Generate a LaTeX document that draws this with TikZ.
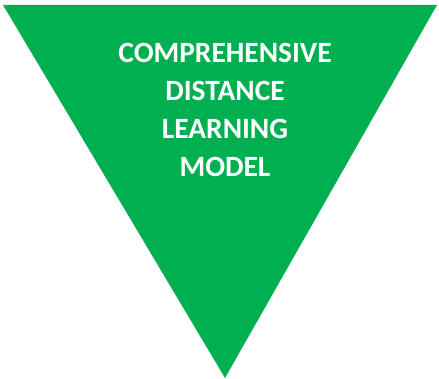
\documentclass[tikz,border=0pt]{standalone}
\usepackage{fontspec}
\setmainfont{Carlito}
\usetikzlibrary{positioning}
\definecolor{funnelcolor}{RGB}{0,176,80}
\tikzset{
  %% funnel : the green triangle
  funnel/.style={fill=funnelcolor, draw=none},
  %% title : the white text inside
  title/.style={
    text=white,
    font=\fontsize{29.4}{38}\selectfont\bfseries,
    align=center,
    inner sep=0pt
  }
}
\begin{document}
\begin{tikzpicture}
  [x=1pt,
  y=-1pt]

  \useasboundingbox (0,0) rectangle (439,379);

  %% Triangle
  \coordinate (topleft) at (3,5);
  \coordinate (topright) at (437,5);
  \coordinate (tip) at (225,378);
  \fill [funnel] (topleft) -- (topright) -- (tip) -- cycle;

  %% Text
  \node (model) [title] at (225,109.5){%
    COMPREHENSIVE\\
    DISTANCE\\
    LEARNING\\
    MODEL};

\end{tikzpicture}
\end{document}
